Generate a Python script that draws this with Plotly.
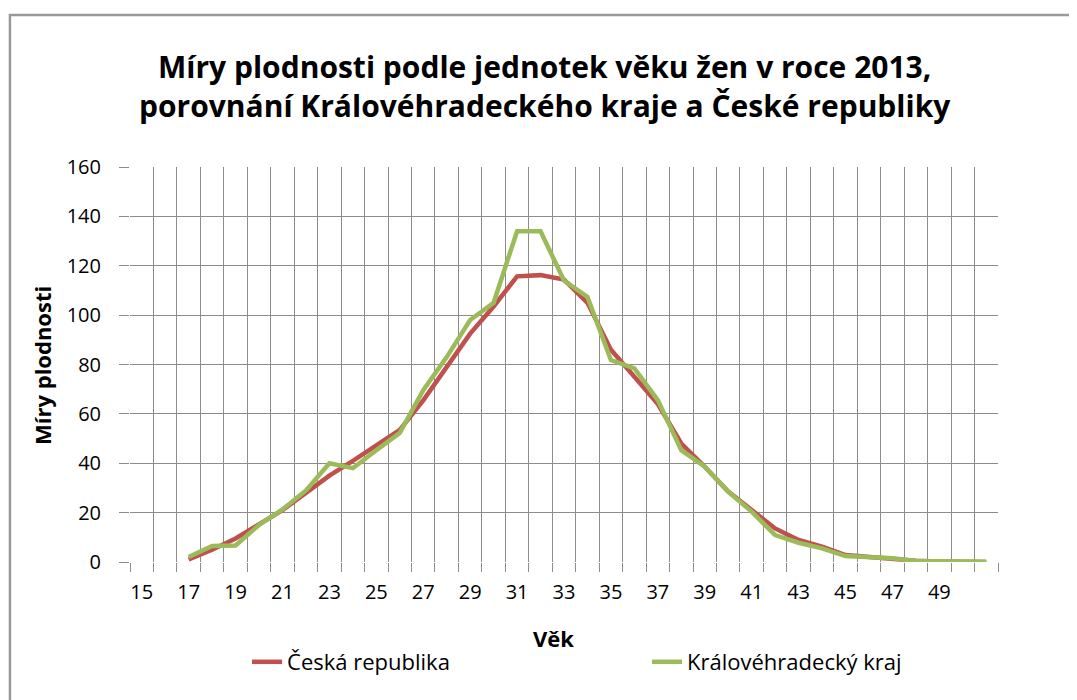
import plotly.graph_objects as go

ages = list(range(15, 52))
tick_ages = list(range(15, 50, 2))

cr_values = [None, None, 1, 5, 9.5, 15, 21, 28, 35, 41, 47, 53.5, 65.5, 79, 92.5, 103.5,
             115.7, 116.2, 114.4, 105, 86, 75, 64, 48, 38.6, 28.5, 21, 13.6, 8.9, 6.2,
             2.8, 1.9, 1.1, 0.5, 0.2, 0.1, 0.0]
kh_values = [None, None, 2, 6.5, 6.7, 15, 21.3, 29, 40, 38, 45.3, 52.3, 69.6, 83, 98, 105,
             134, 134, 114, 107.4, 81.8, 78.4, 65.6, 45.3, 38.6, 28.5, 20.4, 10.9, 7.8, 5.5,
             2.4, 1.9, 1.5, 0.4, 0.2, 0.1, 0.1]

series_names = ["Česká republika", "Královéhradecký kraj"]
title_text = "Míry plodnosti podle jednotek věku žen v roce 2013,<br>porovnání Královéhradeckého kraje a České republiky"

FONT = "Open Sans, sans-serif"
GRID = "#8c8c8c"

# page offset (body margin) compensation
OFF = 8
W, H = 1077 - OFF, 700 - OFF
PL, PT = 130 - OFF, 167 - OFF          # plot-area left/top in figure px
PW, PH = 867.7, 395                   # plot-area size


def px(xp):
    return (xp - 130) / PW


def py(yp):
    return (562 - yp) / PH


fig = go.Figure()
fig.add_trace(go.Scatter(x=ages, y=cr_values, mode="lines", name=series_names[0],
                         line=dict(color="#C0504D", width=4.5)))
fig.add_trace(go.Scatter(x=ages, y=kh_values, mode="lines", name=series_names[1],
                         line=dict(color="#9BBB59", width=4.5)))

fig.update_layout(
    width=W, height=H,
    margin=dict(l=PL, r=W - PL - PW, t=PT, b=H - PT - PH, autoexpand=False),
    paper_bgcolor="white", plot_bgcolor="white",
    font=dict(family=FONT, size=20, color="#000"),
    showlegend=True,
    legend=dict(orientation="h", x=px(247), xanchor="left", y=py(662), yanchor="middle",
                entrywidth=355, entrywidthmode="pixels",
                font=dict(family=FONT, size=22, color="#000"),
                bgcolor="rgba(0,0,0,0)"),
    xaxis=dict(range=[14.5, 51.5], tickmode="array", tickvals=tick_ages,
               ticktext=[str(a) for a in tick_ages], showgrid=False, ticks="",
               zeroline=False, showline=False, ticklabelstandoff=16,
               tickfont=dict(family=FONT, size=20),
               minor=dict(tick0=0.5, dtick=1, showgrid=True, gridcolor=GRID, gridwidth=1,
                          ticks="outside", ticklen=9, tickcolor=GRID, tickwidth=1)),
    yaxis=dict(range=[0, 160], dtick=20, showgrid=True, gridcolor=GRID, gridwidth=1,
               ticks="outside", ticklen=10, tickcolor=GRID, tickwidth=1,
               zeroline=False, showline=False, ticklabelstandoff=14,
               tickfont=dict(family=FONT, size=20)),
)

fig.add_annotation(text="<b>" + title_text + "</b>", xref="paper", yref="paper",
                   x=px(545), y=py(86), xanchor="center", yanchor="middle",
                   showarrow=False, font=dict(family=FONT, size=30, color="#000"))
fig.add_annotation(text="<b>Míry plodnosti</b>", xref="paper", yref="paper",
                   x=px(42), y=py(365), xanchor="center", yanchor="middle",
                   textangle=-90, showarrow=False, font=dict(family=FONT, size=22, color="#000"))
fig.add_annotation(text="<b>Věk</b>", xref="paper", yref="paper",
                   x=px(553), y=py(638), xanchor="center", yanchor="middle",
                   showarrow=False, font=dict(family=FONT, size=22, color="#000"))

fig.add_shape(type="rect", xref="paper", yref="paper",
              x0=px(10), x1=1.3, y0=-0.6, y1=py(15),
              line=dict(color="#999999", width=2.5), fillcolor="rgba(0,0,0,0)", layer="below")

fig.write_html("out.html")
